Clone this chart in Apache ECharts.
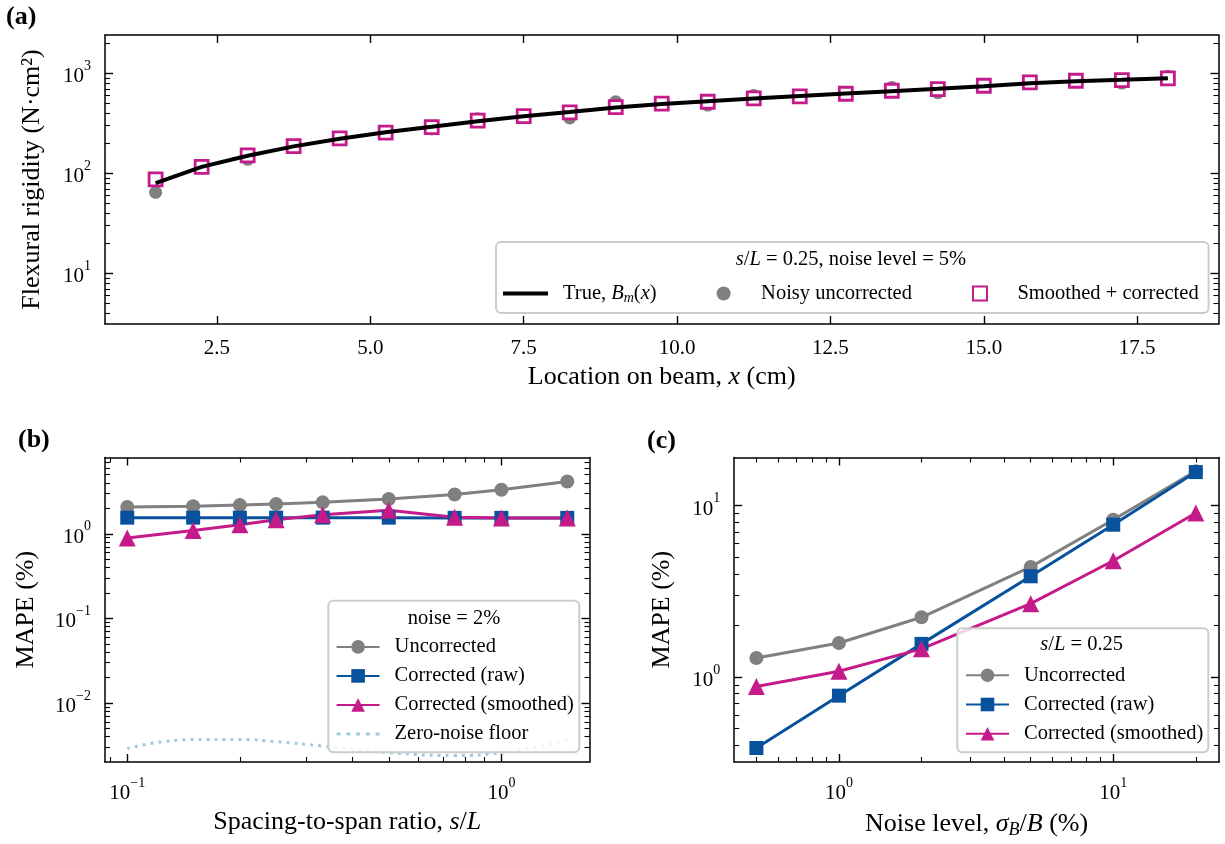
<!DOCTYPE html>
<html>
<head>
<meta charset="utf-8">
<script src="https://cdn.jsdelivr.net/npm/echarts@6/dist/echarts.min.js"></script>
<style>html,body{margin:0;padding:0;background:#fff}#main{width:1225px;height:844px}</style>
</head>
<body>
<div id="main"></div>
<script>
var chartDom = document.getElementById('main');
var myChart = echarts.init(chartDom);
var option;

var FONT = 'Liberation Serif';

// (a) flexural rigidity along the beam
var beamX = [1.5, 2.25, 3.0, 3.75, 4.5, 5.25, 6.0, 6.75, 7.5, 8.25, 9.0, 9.75,
  10.5, 11.25, 12.0, 12.75, 13.5, 14.25, 15.0, 15.75, 16.5, 17.25, 18.0];
var trueB = [80, 116, 150, 186, 222, 257, 292, 332, 372, 410, 455, 493,
  527, 562, 594, 628, 664, 700, 745, 795, 835, 862, 893];
var noisyB = [64.6, 118, 138, 190, 220, 258, 278, 352, 370, 358, 520, 490,
  482, 600, 585, 630, 722, 640, 745, 820, 850, 800, 935];
var smoothB = [87, 116, 151, 187, 224, 255, 290, 336, 374, 407, 460, 497,
  520, 562, 589, 625, 670, 697, 752, 813, 844, 857, 891];
var beamTicks = [2.5, 5, 7.5, 10, 12.5, 15, 17.5];
var rigidityTicks = [10, 100, 1000];

// (b) MAPE vs spacing-to-span ratio, noise = 2%
var ratio = [0.1, 0.15, 0.2, 0.25, 0.333, 0.5, 0.75, 1.0, 1.5];
var uncB = [2.07, 2.12, 2.18, 2.24, 2.35, 2.57, 2.91, 3.31, 4.15];
var rawB = [1.55, 1.55, 1.55, 1.55, 1.55, 1.55, 1.54, 1.54, 1.54];
var smB = [0.89, 1.09, 1.28, 1.46, 1.68, 1.89, 1.57, 1.53, 1.53];
var floorB = [0.0029, 0.0037, 0.0037, 0.0035, 0.0031, 0.0026, 0.0024, 0.0026, 0.0036];
var ratioTicks = [0.1, 1];
var mapeTicksB = [0.01, 0.1, 1];

// (c) MAPE vs noise level, s/L = 0.25
var noise = [0.5, 1, 2, 5, 10, 20];
var uncC = [1.29, 1.58, 2.23, 4.39, 8.28, 15.9];
var rawC = [0.385, 0.778, 1.56, 3.87, 7.74, 15.7];
var smC = [0.88, 1.08, 1.46, 2.68, 4.77, 9.06];
var noiseTicks = [1, 10];
var mapeTicksC = [1, 10];

var GRAY = '#808080', BLUE = '#08519c', PINK = '#c51b8a', LIGHT = '#9ecae1';

// legend icons drawn as paths so they keep their shape
var ICON_LINE = 'path://M0,0h45v4h-45z';
var ICON_SQUARE = 'path://M0,0h10v10h-10z';
var ICON_DOTS = 'path://M0,0h4v3h-4zM9.75,0h4v3h-4zM19.5,0h4v3h-4zM29.25,0h4v3h-4zM39,0h4v3h-4z';

function pairs(xs, ys) {
  return xs.map(function (x, i) { return [x, ys[i]]; });
}

function logLabel(v) {
  var e = Math.round(Math.log10(v));
  return '{b|10}{s|' + (e < 0 ? '\u2212' + (-e) : e) + '}';
}

var tickRich = {
  b: { fontFamily: FONT, fontSize: 21, color: '#000', padding: [7, 0, 0, 0] },
  s: { fontFamily: FONT, fontSize: 14, color: '#000', verticalAlign: 'top' }
};

var nameStyle = {
  fontFamily: FONT, fontSize: 26, color: '#000',
  rich: {
    i: { fontFamily: FONT, fontSize: 26, fontStyle: 'italic', color: '#000' },
    sub: { fontFamily: FONT, fontSize: 18, fontStyle: 'italic', color: '#000', padding: [12, 0, 0, 0] }
  }
};

function axis(o) {
  var a = {
    type: o.type,
    gridIndex: o.grid,
    position: o.position,
    min: o.min,
    max: o.max,
    axisLine: { show: true, onZero: false, lineStyle: { color: '#000', width: 1.5 } },
    axisTick: { show: true, inside: true, length: 8, customValues: o.ticks, lineStyle: { color: '#000', width: 1.4 } },
    minorTick: { show: o.type === 'log', splitNumber: 9, length: 5, lineStyle: { color: '#000', width: 1.1 } },
    splitLine: { show: false },
    axisLabel: { show: false }
  };
  if (o.labels) {
    a.axisLabel = {
      show: true, customValues: o.ticks, margin: 14,
      fontFamily: FONT, fontSize: 21, color: '#000',
      formatter: o.type === 'log' ? logLabel : function (v) { return v.toFixed(1); },
      rich: tickRich
    };
  }
  if (o.name) {
    a.name = o.name;
    a.nameLocation = 'middle';
    a.nameGap = o.gap;
    a.nameTextStyle = nameStyle;
  }
  return a;
}

var legendText = {
  fontFamily: FONT, fontSize: 20.5, color: '#000', padding: [0, 0, 0, 10],
  rich: {
    i: { fontFamily: FONT, fontSize: 20.5, fontStyle: 'italic', color: '#000' },
    sub: { fontFamily: FONT, fontSize: 14, fontStyle: 'italic', color: '#000', padding: [9, 0, 0, 0] }
  }
};

function lineSeries(name, xi, xs, ys, color, symbol, size) {
  return {
    name: name, type: 'line', xAxisIndex: xi, yAxisIndex: xi,
    data: pairs(xs, ys), symbol: symbol, symbolSize: size, showSymbol: true,
    lineStyle: { color: color, width: 3 }, itemStyle: { color: color }
  };
}

option = {
  animation: false,
  backgroundColor: '#fff',
  grid: [
    { left: 105, right: 6.5, top: 35, bottom: 520 },
    { left: 105, right: 635.5, top: 457.5, bottom: 82 },
    { left: 734.2, right: 6, top: 457.5, bottom: 82 }
  ],
  xAxis: [
    axis({ type: 'value', grid: 0, position: 'bottom', min: 0.675, max: 18.825, ticks: beamTicks, labels: true,
      name: 'Location on beam, {i|x} (cm)', gap: 40 }),
    axis({ type: 'value', grid: 0, position: 'top', min: 0.675, max: 18.825, ticks: beamTicks }),
    axis({ type: 'log', grid: 1, position: 'bottom', min: 0.0872, max: 1.72, ticks: ratioTicks, labels: true,
      name: 'Spacing-to-span ratio, {i|s}/{i|L}', gap: 47 }),
    axis({ type: 'log', grid: 1, position: 'top', min: 0.0872, max: 1.72, ticks: ratioTicks }),
    axis({ type: 'log', grid: 2, position: 'bottom', min: 0.415, max: 24.3, ticks: noiseTicks, labels: true,
      name: 'Noise level, {i|\u03c3}{sub|B}/{i|B} (%)', gap: 47 }),
    axis({ type: 'log', grid: 2, position: 'top', min: 0.415, max: 24.3, ticks: noiseTicks })
  ],
  yAxis: [
    axis({ type: 'log', grid: 0, position: 'left', min: 3.11, max: 2420, ticks: rigidityTicks, labels: true,
      name: 'Flexural rigidity (N\u00b7cm\u00b2)', gap: 60 }),
    axis({ type: 'log', grid: 0, position: 'right', min: 3.11, max: 2420, ticks: rigidityTicks }),
    axis({ type: 'log', grid: 1, position: 'left', min: 0.00201, max: 7.96, ticks: mapeTicksB, labels: true,
      name: 'MAPE (%)', gap: 66 }),
    axis({ type: 'log', grid: 1, position: 'right', min: 0.00201, max: 7.96, ticks: mapeTicksB }),
    axis({ type: 'log', grid: 2, position: 'left', min: 0.319, max: 19.1, ticks: mapeTicksC, labels: true,
      name: 'MAPE (%)', gap: 59.5 }),
    axis({ type: 'log', grid: 2, position: 'right', min: 0.319, max: 19.1, ticks: mapeTicksC })
  ],
  legend: [
    {
      z: 60, orient: 'horizontal', left: 503, top: 283, padding: 0,
      itemWidth: 45, itemHeight: 14, itemGap: 60, textStyle: legendText,
      data: [
        { name: 'True, {i|B}{sub|m}({i|x})', icon: ICON_LINE },
        'Noisy uncorrected',
        { name: 'Smoothed + corrected', icon: ICON_SQUARE }
      ]
    },
    {
      z: 60, orient: 'vertical', left: 335.6, top: 636.4, padding: 0,
      itemWidth: 43, itemHeight: 17, itemGap: 8, textStyle: legendText,
      data: ['Uncorrected', 'Corrected (raw)', 'Corrected (smoothed)',
        { name: 'Zero-noise floor', icon: ICON_DOTS }]
    },
    {
      z: 60, orient: 'vertical', left: 965, top: 664.7, padding: 0,
      itemWidth: 43, itemHeight: 17, itemGap: 8.3, textStyle: legendText,
      data: ['Uncorrected', 'Corrected (raw)', 'Corrected (smoothed)']
    }
  ],
  graphic: [
    { type: 'rect', z: 50, shape: { x: 496, y: 242, width: 712.6, height: 71, r: 5 },
      style: { fill: 'rgba(255,255,255,0.8)', stroke: '#cccccc', lineWidth: 2 } },
    { type: 'rect', z: 50, shape: { x: 328.3, y: 600.7, width: 251, height: 151.6, r: 5 },
      style: { fill: 'rgba(255,255,255,0.8)', stroke: '#cccccc', lineWidth: 2 } },
    { type: 'rect', z: 50, shape: { x: 957.3, y: 628.3, width: 251, height: 124, r: 5 },
      style: { fill: 'rgba(255,255,255,0.8)', stroke: '#cccccc', lineWidth: 2 } },
    { type: 'text', z: 60, x: 851, y: 259.5,
      style: { text: '{i|s}/{i|L} = 0.25, noise level = 5%', font: '20.5px "Liberation Serif"', fill: '#000',
        align: 'center', verticalAlign: 'middle', textAlign: 'center', textVerticalAlign: 'middle', rich: legendText.rich } },
    { type: 'text', z: 60, x: 454, y: 618.5,
      style: { text: 'noise = 2%', font: '20.5px "Liberation Serif"', fill: '#000',
        align: 'center', verticalAlign: 'middle', textAlign: 'center', textVerticalAlign: 'middle' } },
    { type: 'text', z: 60, x: 1081.7, y: 645,
      style: { text: '{i|s}/{i|L} = 0.25', font: '20.5px "Liberation Serif"', fill: '#000',
        align: 'center', verticalAlign: 'middle', textAlign: 'center', textVerticalAlign: 'middle', rich: legendText.rich } },
    { type: 'text', z: 60, x: 6, y: 17.5,
      style: { text: '(a)', font: 'bold 26px "Liberation Serif"', fill: '#000', verticalAlign: 'middle', textVerticalAlign: 'middle' } },
    { type: 'text', z: 60, x: 18, y: 440,
      style: { text: '(b)', font: 'bold 26px "Liberation Serif"', fill: '#000', verticalAlign: 'middle', textVerticalAlign: 'middle' } },
    { type: 'text', z: 60, x: 647, y: 441,
      style: { text: '(c)', font: 'bold 26px "Liberation Serif"', fill: '#000', verticalAlign: 'middle', textVerticalAlign: 'middle' } }
  ],
  series: [
    {
      name: 'True, {i|B}{sub|m}({i|x})', type: 'line', xAxisIndex: 0, yAxisIndex: 0,
      data: pairs(beamX, trueB), symbol: 'none',
      lineStyle: { color: '#000', width: 4 }, itemStyle: { color: '#000' }
    },
    {
      name: 'Noisy uncorrected', type: 'scatter', xAxisIndex: 0, yAxisIndex: 0,
      data: pairs(beamX, noisyB), symbol: 'circle', symbolSize: 13,
      itemStyle: { color: GRAY, opacity: 1 }
    },
    {
      name: 'Smoothed + corrected', type: 'scatter', xAxisIndex: 0, yAxisIndex: 0,
      data: pairs(beamX, smoothB), symbol: 'rect', symbolSize: 13,
      itemStyle: { color: '#fff', borderColor: PINK, borderWidth: 2.8, opacity: 1 }
    },
    lineSeries('Uncorrected', 2, ratio, uncB, GRAY, 'circle', 14),
    lineSeries('Corrected (raw)', 2, ratio, rawB, BLUE, 'rect', 14),
    lineSeries('Corrected (smoothed)', 2, ratio, smB, PINK, 'triangle', 17),
    {
      name: 'Zero-noise floor', type: 'line', xAxisIndex: 2, yAxisIndex: 2,
      data: pairs(ratio, floorB), symbol: 'none', smooth: true,
      lineStyle: { color: LIGHT, width: 3, type: [3, 5] }, itemStyle: { color: LIGHT }
    },
    lineSeries('Uncorrected', 4, noise, uncC, GRAY, 'circle', 14),
    lineSeries('Corrected (raw)', 4, noise, rawC, BLUE, 'rect', 14),
    lineSeries('Corrected (smoothed)', 4, noise, smC, PINK, 'triangle', 17)
  ]
};

option && myChart.setOption(option);
</script>
</body>
</html>
